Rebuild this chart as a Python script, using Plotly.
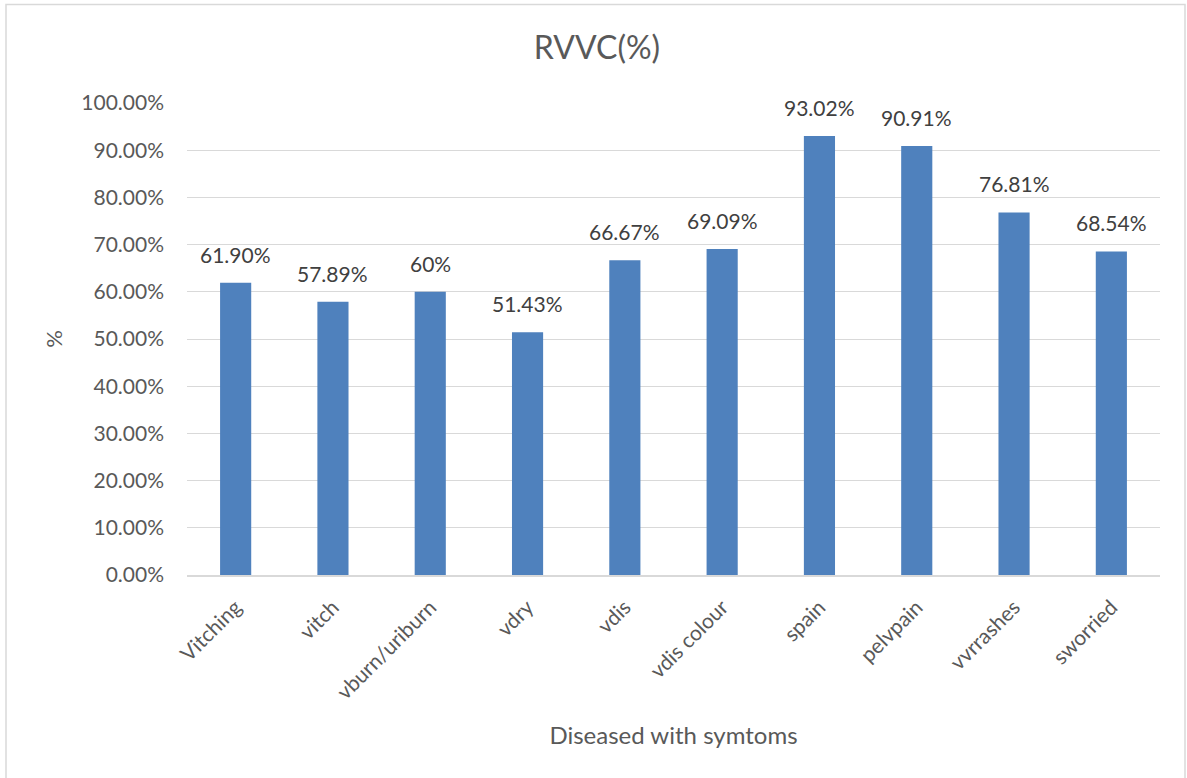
import plotly.graph_objects as go

categories = ["Vitching", "vitch", "vburn/uriburn", "vdry", "vdis", "vdis colour",
              "spain", "pelvpain", "vvrrashes", "sworried"]
values = [0.6190, 0.5789, 0.60, 0.5143, 0.6667, 0.6909, 0.9302, 0.9091, 0.7681, 0.6854]
labels = ["61.90%", "57.89%", "60%", "51.43%", "66.67%", "69.09%",
          "93.02%", "90.91%", "76.81%", "68.54%"]
y_ticks = [i / 10 for i in range(11)]

W, H = 1187, 778
L, R, T, B = 187, 27, 103, 203
pw = W - L - R
ph = H - T - B

font_family = "Lato, 'Open Sans', sans-serif"
grey = "#595959"

fig = go.Figure(go.Bar(
    x=categories,
    y=values,
    marker=dict(color="#4f81bd", line=dict(width=0)),
    hoverinfo="x+y",
))

# value labels sitting a little above each bar
annotations = [
    dict(x=c, y=v, xref="x", yref="y", text=t, showarrow=False,
         yanchor="bottom", yshift=14,
         font=dict(size=21, color="#404040", family=font_family))
    for c, v, t in zip(categories, values, labels)
]

fig.update_layout(
    width=W, height=H,
    margin=dict(l=L, r=R, t=T, b=B),
    paper_bgcolor="white",
    plot_bgcolor="white",
    bargap=0.68,
    showlegend=False,
    font=dict(family=font_family, color=grey),
    title=dict(text="RVVC(%)", x=597 / W, xanchor="center",
               y=1 - 48 / H, yanchor="middle",
               font=dict(size=32, color=grey, family=font_family)),
    xaxis=dict(
        tickangle=-45,
        tickfont=dict(size=21, color=grey),
        showgrid=False,
        showline=True, linecolor="#d9d9d9", linewidth=1.5,
        ticks="",
        ticklabelstandoff=10,
        automargin=False,
        title=dict(text="Diseased with symtoms", font=dict(size=24, color=grey), standoff=25),
    ),
    yaxis=dict(
        range=[0, 1],
        tickvals=y_ticks,
        tickformat=".2%",
        tickfont=dict(size=21, color=grey),
        showgrid=True, gridcolor="#d9d9d9", gridwidth=1,
        zeroline=False,
        ticks="",
        ticklabelstandoff=22,
        automargin=False,
        title=dict(text="%", font=dict(size=22, color=grey), standoff=12),
    ),
    annotations=annotations,
    shapes=[dict(
        type="rect", xref="paper", yref="paper",
        x0=(6 - L) / pw, x1=(1185 - L) / pw,
        y0=-(H + 10 - T - ph) / ph, y1=(H - 4.5 - B) / ph,
        line=dict(color="#d9d9d9", width=1.5),
        fillcolor="rgba(0,0,0,0)",
        layer="below",
    )],
)

fig.write_html("out.html")
